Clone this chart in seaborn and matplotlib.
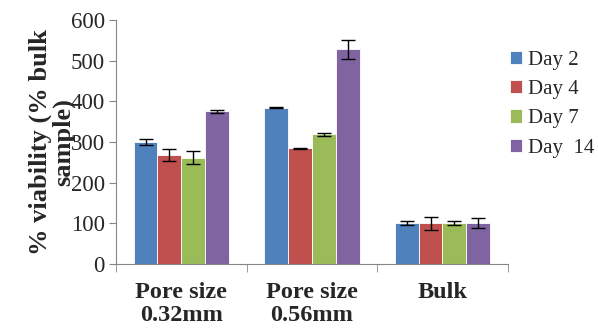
import pandas as pd
import matplotlib.pyplot as plt
import seaborn as sns

groups = ['Pore size\n0.32mm', 'Pore size\n0.56mm', 'Bulk']
days = ['Day 2', 'Day 4', 'Day 7', 'Day  14']
day2 = [300, 385, 100]
day4 = [269, 285, 100]
day7 = [262, 319, 100]
day14 = [376, 528, 100]
err2 = [8, 2, 5]
err4 = [15, 1, 16]
err7 = [16, 4, 5]
err14 = [4, 24, 12]
colors = ['#4F81BD', '#C0504D', '#9BBB59', '#8064A2']

rows = []
for d, vals, errs in zip(days, [day2, day4, day7, day14], [err2, err4, err7, err14]):
    for g, v, e in zip(groups, vals, errs):
        rows.append({'group': g, 'day': d, 'value': v, 'err': e})
df = pd.DataFrame(rows)

sns.set_style('white')
plt.rcParams['font.family'] = ['Liberation Serif', 'DejaVu Serif']

fig = plt.figure(figsize=(5.98, 3.30), dpi=100)
ax = fig.add_axes([0.194, 0.2, 0.655, 0.739])

sns.barplot(data=df, x='group', y='value', hue='day', palette=colors, saturation=1,
            width=0.73, errorbar=None, edgecolor='white', linewidth=0.6, ax=ax)

# error bars placed on each bar centre
for cont, d in zip(ax.containers, days):
    sub = df[df['day'] == d]
    xs = [p.get_x() + p.get_width() / 2 for p in cont.patches]
    ax.errorbar(xs, sub['value'], yerr=sub['err'], fmt='none',
                ecolor='black', elinewidth=1, capsize=5, capthick=1)

ax.set_ylim(0, 600)
ax.set_xlim(-0.5, 2.5)
ax.set_yticks(range(0, 601, 100))
ax.tick_params(axis='y', labelsize=16.5, length=5, color='#868686', direction='out', left=True, pad=3)
ax.set_xticks([0, 1, 2])
ax.set_xticklabels(groups, fontsize=17.5, fontweight='bold', linespacing=1.1)
ax.tick_params(axis='x', length=0, pad=13)
ax.set_xticks([-0.5, 0.5, 1.5, 2.5], minor=True)
ax.tick_params(axis='x', which='minor', length=6, color='#868686', bottom=True)
for s in ['top', 'right']:
    ax.spines[s].set_visible(False)
for s in ['left', 'bottom']:
    ax.spines[s].set_color('#868686')
ax.set_xlabel('')
ax.set_ylabel('% viability (% bulk\nsample)', fontsize=19, fontweight='bold',
              labelpad=-3, linespacing=0.95)

ax.legend(loc='upper left', bbox_to_anchor=(1.005, 0.875), borderaxespad=0, frameon=False,
          fontsize=15, handlelength=0.6, handleheight=0.6, handletextpad=0.3,
          labelspacing=0.5, borderpad=0)

fig.savefig('out.png', dpi=100)
